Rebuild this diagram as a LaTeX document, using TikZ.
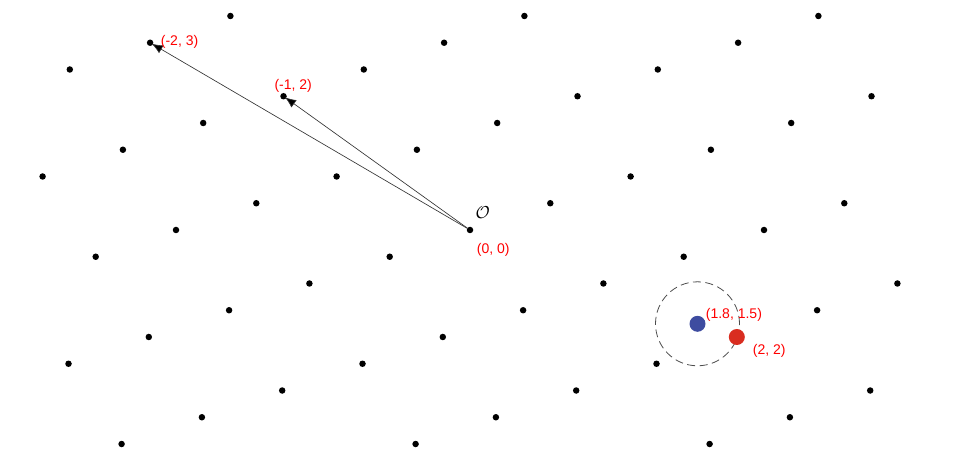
\documentclass[tikz,border=0pt]{standalone}
\usepackage{fontspec}
\setmainfont{Liberation Sans}
\usetikzlibrary{arrows.meta}
\definecolor{ptblue}{RGB}{62,76,160}
\definecolor{ptred}{RGB}{217,45,32}
\begin{document}
\begin{tikzpicture}[x=1pt,y=-1pt,
  latpt/.style={circle,fill=black,inner sep=0pt,minimum size=6.5pt},
  bigpt/.style={circle,inner sep=0pt,minimum size=16pt},
  lbl/.style={text=red,font=\fontsize{14}{16}\selectfont,inner sep=0pt,anchor=west},
  vecarrow/.style={draw=black!80,line width=0.65pt,shorten >=-1.5pt,-{Latex[length=11pt,width=9pt,fill=black]}},
  nbhd/.style={draw=black!70,line width=0.8pt,dash pattern=on 8pt off 4.5pt,circle,inner sep=0pt,minimum size=84pt}]
\useasboundingbox (0,0) rectangle (962,457);
\foreach \k in {-8,...,8}{
  \foreach \j in {-3,...,4}{
    \pgfmathsetmacro{\px}{470-80.3*\k+294*\j}
    \pgfmathsetmacro{\py}{230+26.75*\k}
    \pgfmathtruncatemacro{\ki}{\k+8}
    \pgfmathtruncatemacro{\ji}{\j+3}
    \ifdim \px pt>30pt \ifdim \px pt<910pt
      \node[latpt] (p\ki-\ji) at (\px,\py) {};
    \fi\fi
  }
}
% vectors
\draw[vecarrow] (p8-3) -- (p3-1);
\draw[vecarrow] (p8-3) -- (p1-0);
% target and closest point
\node[bigpt,fill=ptblue] (tgt) at (697.5,323.8) {};
\node[nbhd] (ball) at (tgt) {};
\node[bigpt,fill=ptred] (close) at (p12-5) {};
% labels
\node[lbl] (l23) at (160.7,41.7) {(-2, 3)};
\node[lbl] (l12) at (274.3,85.7) {(-1, 2)};
\node[lbl] (l00) at (476.7,250) {(0, 0)};
\node[inner sep=0pt,font=\fontsize{18}{20}\selectfont] (orig) at (482.7,213) {$\mathcal{O}$};
\node[lbl] (l1815) at (705.7,315) {(1.8, 1.5)};
\node[lbl] (l22) at (752.7,351) {(2, 2)};
\end{tikzpicture}
\end{document}
